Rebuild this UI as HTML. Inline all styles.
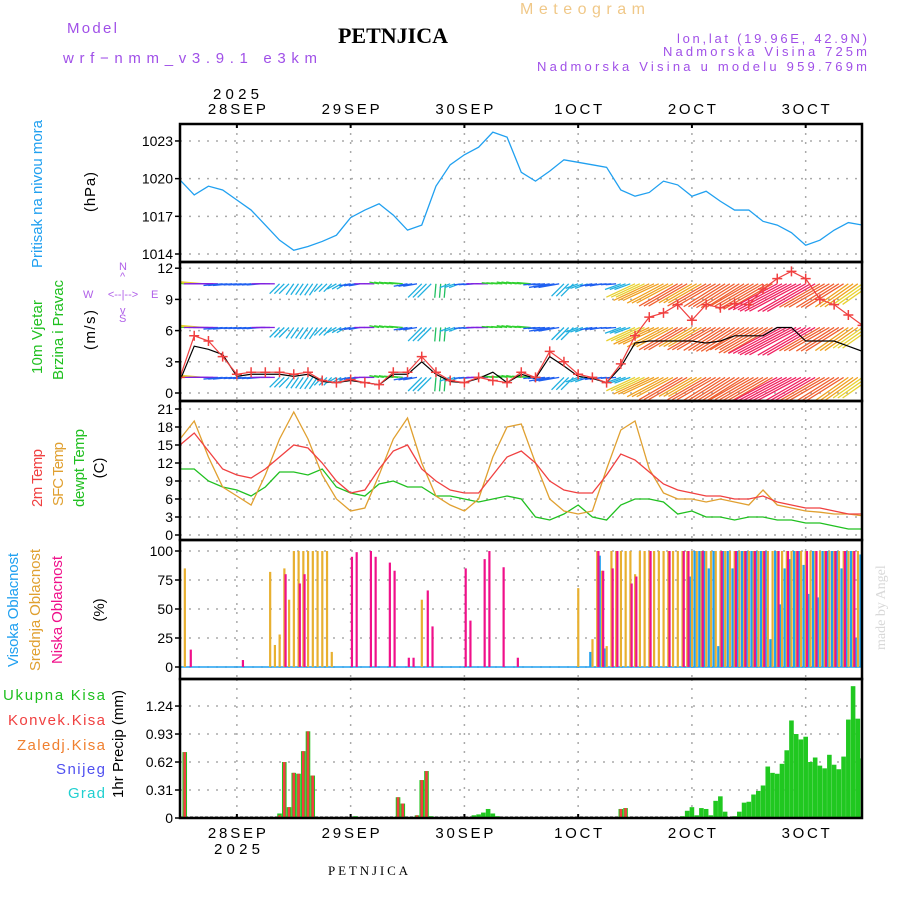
<!DOCTYPE html>
<html><head><meta charset="utf-8"><style>
html,body{margin:0;padding:0;background:#fff;}
svg{display:block;font-family:"Liberation Sans",sans-serif;}
</style></head><body>
<svg id="c" width="900" height="900" viewBox="0 0 900 900">
<g id="hdr">
<text x="67" y="33" font-size="15" fill="#a050e8" textLength="50">Model</text>
<text x="63" y="63" font-size="15" fill="#a050e8" textLength="254">wrf−nmm_v3.9.1 e3km</text>
<text x="393" y="43" font-size="22" font-weight="bold" font-family="Liberation Serif,serif" text-anchor="middle">PETNJICA</text>
<text x="520" y="14" font-size="16" fill="#f0c888" textLength="125">Meteogram</text>
<text x="677" y="43" font-size="13" fill="#a050e8" textLength="190">lon,lat (19.96E, 42.9N)</text>
<text x="663" y="56" font-size="13" fill="#a050e8" textLength="204">Nadmorska Visina 725m</text>
<text x="537" y="71" font-size="13" fill="#a050e8" textLength="330">Nadmorska Visina u modelu 959.769m</text>
<text x="368" y="875" font-size="13" font-family="Liberation Serif,serif" text-anchor="middle" textLength="80">PETNJICA</text>
<text transform="translate(885,650) rotate(-90)" font-size="14" fill="#d8d8d8" font-family="Liberation Serif,serif">made by Angel</text>
</g>
</svg>
<script>
// ---------- data ----------
const dayLabels = ["28SEP","29SEP","30SEP","1OCT","2OCT","3OCT"];
const dayHours = [12,36,60,84,108,132];
const pressure = [1019.9,1018.7,1019.4,1019.1,1018.3,1017.5,1016.3,1015.1,1014.3,1014.6,1015,1015.5,1016.9,1017.5,1018,1017.1,1015.9,1016.3,1019.4,1021.1,1021.9,1022.5,1023.7,1023.3,1020.5,1019.8,1020.6,1021.5,1021.3,1021.1,1020.9,1019.1,1018.6,1018.9,1019.8,1019.5,1018.6,1019,1018.2,1017.5,1017.5,1016.6,1016.3,1015.7,1014.7,1015.1,1015.9,1016.5,1016.3];
const pressTicks = [1014,1017,1020,1023];
const windSpeed = [1.5,5.5,5,3.5,1.8,2,2,2,1.8,2,1.2,1,1.3,1,0.8,2,2,3.5,2,1.2,1,1.5,1.2,1,2,1.5,4,3,1.8,1.5,1,2.8,5.5,7.3,7.7,8.5,7,8.5,8.2,8.6,8.5,10,11,11.7,11,9,8.5,7.5,6.5];
const windGust = [1.2,4.5,4.2,3.7,1.6,1.8,1.8,1.8,1.6,1.8,1.1,1,1.2,1,0.8,1.8,1.8,3,1.8,1.1,1,1.4,2,1,1.8,1.4,3.5,2.6,1.6,1.4,1,2.5,4.8,5,5,5,5,4.8,5,5.5,5.5,5.5,6.3,6.3,5,5,5,4.5,4];
const windDir = [175,175,180,185,185,185,180,225,235,235,225,210,190,180,170,175,190,225,265,200,185,180,175,170,175,185,190,225,200,190,185,200,205,205,208,210,210,210,212,212,210,210,208,208,210,210,212,215,215];
const windTicks = [0,3,6,9,12];
const temp2m = [15,17,14,11,10,9.5,11,13,15,14.5,12,9,7,7.5,11,14,15,11,9,7.5,7,7,10,13,14,12,9,7.5,7,7,10,13.5,12.5,10.5,8.5,7.5,7,6.5,6.5,6,6,6.5,5.5,5,4.5,4.5,4,3.5,3.5];
const tempSfc = [16,19,13,8,6.5,5,10,16,20.5,16,10,6,4,4.5,10,16,19.5,12,6.5,5,4,6,13,18,18.5,12,6,4,3.5,4,11,17.5,19,11,7,6,6,5.5,6,5.5,5,7.5,5,4.5,4,3.8,3.5,3.5,3.2];
const tempDew = [11,11,9,8,7.5,6.5,8,10.5,10.5,10,11,8,7,6.5,8.5,9,8,8,6.5,6.5,6,5.5,6,6.5,6,3,2.5,3.5,5,3,2.5,5,6,6,5.5,3.5,4,3,3,2.5,3,3,2.5,2.5,2,2,1.5,1,1];
const tempTicks = [0,3,6,9,12,15,18,21];
const lowCloudHours = [2,13,22,25,26,36,37,40,41,44,45,48,49,52,53,60,61,64,65,68,71,88,89,91,92,95,96,99,103,106,107,110,114,117,119,121,123,126,128,130,132,134,136,138,140,142];
const lowCloudVals = [15,6,80,72,80,95,99,100,95,90,83,8,8,66,35,85,40,93,100,86,8,100,83,85,100,72,78,100,100,100,100,100,100,100,100,100,100,100,100,100,100,100,100,100,100,100];
const midCloudHours = [1,19,20,21,22,23,24,25,26,27,28,29,30,31,32,51,84,87,88,89,90,91,92,93,94,95,96,97,98,99,100,101,102,103,104,105,106,107,108,109,110,111,112,113,114,115,116,117,118,119,120,121,122,123,124,125,126,127,128,129,130,131,132,133,134,135,136,137,138,139,140,141,142,143,144];
const midCloudVals = [85,82,19,28,85,58,100,100,100,100,100,100,100,100,13,58,68,24,100,83,18,100,100,100,100,100,80,100,100,100,100,100,100,100,100,100,100,100,100,100,100,100,100,100,100,100,100,100,100,100,100,100,100,100,100,100,100,100,100,100,100,100,100,100,100,100,100,100,100,100,100,100,100,100,100];
const highCloudHours = [87,89,90,108,109,110,111,112,113,114,115,116,117,118,119,120,121,122,123,124,125,126,127,128,129,130,131,132,133,134,135,136,137,138,139,140,141,142,143,144];
const highCloudVals = [13,96,16,78,100,100,100,85,100,18,100,100,85,100,100,100,100,100,100,100,24,100,54,85,93,100,100,88,63,100,60,100,100,100,100,85,100,100,25,97];
const cloudTicks = [0,25,50,75,100];
const precipTotal = [0,0.73,0,0,0,0,0,0,0,0,0,0,0,0,0,0,0,0,0,0,0,0.05,0.62,0.12,0.5,0.49,0.74,0.96,0.47,0,0,0,0,0,0,0,0,0.02,0,0,0,0,0,0,0,0,0.23,0.16,0,0,0.03,0.42,0.52,0.02,0,0,0,0,0,0,0,0,0.03,0.04,0.06,0.1,0.05,0.02,0,0,0,0,0,0,0,0,0,0,0,0,0,0,0,0,0,0,0,0,0,0,0,0,0,0.1,0.11,0,0,0,0,0,0,0,0,0,0,0,0.02,0.08,0.12,0.03,0.11,0.1,0.03,0.19,0.24,0.07,0,0.02,0.07,0.17,0.18,0.26,0.3,0.36,0.57,0.5,0.49,0.6,0.75,1.08,0.93,0.87,0.9,0.62,0.67,0.58,0.55,0.7,0.59,0.54,0.68,1.09,1.46,1.1,0.66];
const precipConvHours = [1,21,22,23,24,25,26,27,28,46,47,50,51,52,93,94];
const precipConvVals = [0.73,0.03,0.62,0.12,0.5,0.49,0.74,0.96,0.47,0.23,0.16,0.03,0.42,0.52,0.1,0.11];
const precipTicks = [0,0.31,0.62,0.93,1.24];

// ---------- scales ----------
const X0=180, X1=862, PXH=4.74;
const xh = h => X0 + h*PXH;
const xs = i => xh(i*3);
const panels = {
  p:{t:124,b:262,y0:254,yk:1014,pp:12.56},
  w:{t:262,b:401,y0:393,yk:0,pp:10.4},
  t:{t:401,b:540,y0:535,yk:0,pp:6.0},
  c:{t:540,b:679,y0:667,yk:0,pp:1.16},
  r:{t:679,b:818,y0:818,yk:0,pp:90.3}
};
const yv = (p,v) => panels[p].y0 - (v-panels[p].yk)*panels[p].pp;
const NS="http://www.w3.org/2000/svg";
const svg=document.getElementById('c');
function el(tag,attrs,parent){const e=document.createElementNS(NS,tag);for(const k in attrs)e.setAttribute(k,attrs[k]);(parent||svg).appendChild(e);return e;}
function txt(s,attrs,parent){const e=el('text',attrs,parent);e.textContent=s;return e;}

const defs=el('defs',{});
for(const k in panels){const cp=el('clipPath',{id:'clip-'+k},defs);el('rect',{x:X0,y:panels[k].t,width:X1-X0,height:panels[k].b-panels[k].t},cp);}

function grid(pk,ticks,fmt){
  const P=panels[pk];
  const g=el('g',{});
  
  
  ticks.forEach(v=>{
    const y=yv(pk,v);
    el('line',{x1:X0,x2:X1,y1:y,y2:y,stroke:'#aaa','stroke-dasharray':'2,7','stroke-width':1.5},g);
    el('line',{x1:X0-5,x2:X0,y1:y,y2:y,stroke:'#000','stroke-width':1.5},g);
    const t=txt(fmt(v),{x:X0-7,y:y+5,'font-size':14,'text-anchor':'end'},g);
    
    
  });
  dayHours.forEach(h=>{
    el('line',{x1:xh(h),x2:xh(h),y1:P.t,y2:P.b,stroke:'#aaa','stroke-dasharray':'2,7','stroke-width':1.5},g);
  });
}
grid('p',pressTicks,v=>String(v));
grid('w',windTicks,v=>String(v));
grid('t',tempTicks,v=>String(v));
grid('c',cloudTicks,v=>String(v));
grid('r',precipTicks,v=>v===0?'0':v.toFixed(2));

dayLabels.forEach((d,i)=>{
  const w=d.length===5?58:48;
  const x=xh(dayHours[i])-w/2;
  const a=txt(d,{x:x,y:114,'font-size':15,textLength:w});
  
  
  const b=txt(d,{x:x,y:838,'font-size':15,textLength:w});
  
  
  el('line',{x1:xh(dayHours[i]),x2:xh(dayHours[i]),y1:124,y2:128,stroke:'#000','stroke-width':2});
  el('line',{x1:xh(dayHours[i]),x2:xh(dayHours[i]),y1:814,y2:818,stroke:'#000','stroke-width':2});
});
const yr1=txt('2025',{x:213,y:99,'font-size':15,textLength:46});


const yr2=txt('2025',{x:214,y:854,'font-size':15,textLength:46});



function vlabel(s,x,y,color,name,len){const t=txt(s,{transform:`translate(${x},${y}) rotate(-90)`,'font-size':15,fill:color,'text-anchor':'middle'});if(len){t.setAttribute('textLength',len);}}
vlabel('Pritisak na nivou mora',42,194,'#20a0f0','pressure-axis-title',148);
vlabel('(hPa)',95,192,'#000','pressure-unit',40);
vlabel('10m Vjetar',42,337,'#20c020','wind-axis-title',74);
vlabel('Brzina i Pravac',63,330,'#20c020','wind-axis-subtitle',100);
vlabel('(m/s)',95,330,'#000','wind-unit',40);
vlabel('2m Temp',42,478,'#f04040','temp2m-axis-title',58);
vlabel('SFC Temp',63,474,'#e0a030','sfc-temp-axis-title',64);
vlabel('dewpt Temp',84,468,'#20c020','dewpt-axis-title',78);
vlabel('(C)',104,468,'#000','temp-unit');
vlabel('Visoka Oblacnost',18,610,'#20a0f0','high-cloud-axis-title',114);
vlabel('Srednja Oblacnost',40,610,'#e0a030','mid-cloud-axis-title',122);
vlabel('Niska Oblacnost',62,610,'#f0108a','low-cloud-axis-title',108);
vlabel('(%)',104,610,'#000','cloud-unit');
vlabel('1hr Precip (mm)',123,744,'#000','precip-axis-title',108);
const cg=el('g',{fill:'#b060e8','font-size':11});


txt('W',{x:83,y:298},cg);txt('E',{x:151,y:298},cg);
txt('<--|-->',{x:123,y:298,'text-anchor':'middle'},cg);
txt('N',{x:119,y:270},cg);txt('S',{x:119,y:322},cg);
txt('^',{x:120,y:280},cg);txt('v',{x:120,y:314},cg);

const leg=[['Ukupna Kisa','#20c020',700,3],['Konvek.Kisa','#f04040',725,8],['Zaledj.Kisa','#f08030',750,17],['Snijeg','#5050f0',774,56],['Grad','#20d0d0',798,68]];
leg.forEach(l=>{const t=txt(l[0],{x:l[3],y:l[2],'font-size':15,fill:l[1],textLength:105-l[3]});});

// pressure
const pl=el('polyline',{points:pressure.map((v,i)=>xs(i)+','+yv('p',v)).join(' '),fill:'none',stroke:'#20a0f0','stroke-width':1.3,'clip-path':'url(#clip-p)'});



// wind
const wg=el('g',{'clip-path':'url(#clip-w)'});


function windColor(d,s){
  if(s>5){return s>10?'#f02060':(s>8?'#f06030':(s>6.5?'#f0a020':'#e8d030'));}
  if(d<178)return '#30d030';
  if(d<184)return '#8020e0';
  if(d<195)return '#2060f0';
  if(d<240)return '#20b0e0';
  return '#20c060';
}
const rows=[10.5,6.3,1.5];
windDir.forEach((d,i)=>{
  const s=windSpeed[i];
  const L=s>5?8+s*4.3:7+s*3.5;
  const a=d*Math.PI/180;
  const col=windColor(d,s);
  for(let k=0;k<3;k++){
    const x=xh(i*3+k);
    if(x>X1+40)continue;
    rows.forEach(r=>{
      const y=yv('w',r);
      const ex=x+L*Math.cos(a), ey=y-L*Math.sin(a);
      const ln=el('line',{x1:x,y1:y,x2:ex,y2:ey,stroke:col,'stroke-width':1.3},wg);
      
      
    });
  }
});
const gl=el('polyline',{points:windGust.map((v,i)=>xs(i)+','+yv('w',v)).join(' '),fill:'none',stroke:'#000','stroke-width':1.2,'clip-path':'url(#clip-w)'});


const sl=el('polyline',{points:windSpeed.map((v,i)=>xs(i)+','+yv('w',v)).join(' '),fill:'none',stroke:'#f04040','stroke-width':1.2,'clip-path':'url(#clip-w)'});


windSpeed.forEach((v,i)=>{
  const x=xs(i),y=yv('w',v);
  const m=el('path',{d:`M${x-5},${y}H${x+5}M${x},${y-5}V${y+5}`,stroke:'#f04040','stroke-width':1.5,'clip-path':'url(#clip-w)'});
  
  
});

// temperature
[[tempDew,'#20c020','dewpoint-line'],[tempSfc,'#e0a030','sfc-temp-line'],[temp2m,'#f04040','temp-2m-line']].forEach(s=>{
  const p=el('polyline',{points:s[0].map((v,i)=>xs(i)+','+yv('t',v)).join(' '),fill:'none',stroke:s[1],'stroke-width':1.3,'clip-path':'url(#clip-t)'});
  
  
});

// clouds
el('line',{x1:X0,x2:X1,y1:yv('c',0),y2:yv('c',0),stroke:'#20a0f0','stroke-width':1.5});
function cloudBars(hours,vals,color,off,name){
  hours.forEach((h,i)=>{
    const x=xh(h)+off, y=yv('c',vals[i]);
    const r=el('rect',{x:x-1,y:y,width:2.2,height:yv('c',0)-y,fill:color,'clip-path':'url(#clip-c)'});
    
    
  });
}
cloudBars(midCloudHours,midCloudVals,'#e8b030',0,'mid-cloud-bar');
cloudBars(highCloudHours,highCloudVals,'#20a0f0',-2.2,'high-cloud-bar');
cloudBars(lowCloudHours,lowCloudVals,'#f0108a',1.2,'low-cloud-bar');

// precipitation
el('line',{x1:X0,x2:X1,y1:817,y2:817,stroke:'#000','stroke-width':1,'stroke-dasharray':'3,2'});
precipTotal.forEach((v,h)=>{
  if(v<=0)return;
  const x=xh(h),y=yv('r',v);
  const r=el('rect',{x:x-2.3,y:y,width:4.6,height:818-y,fill:'#20c820','clip-path':'url(#clip-r)'});
  
  
});
precipConvHours.forEach((h,i)=>{
  const x=xh(h),y=yv('r',precipConvVals[i]);
  const r=el('rect',{x:x-1.3,y:y,width:2.6,height:818-y,fill:'#f04040','clip-path':'url(#clip-r)'});
  
  
});

for(const k in panels){
  const P=panels[k];
  const f=el('rect',{x:X0,y:P.t,width:X1-X0,height:P.b-P.t,fill:'none',stroke:'#000','stroke-width':2.5});
  
  
}
</script>
</body></html>
